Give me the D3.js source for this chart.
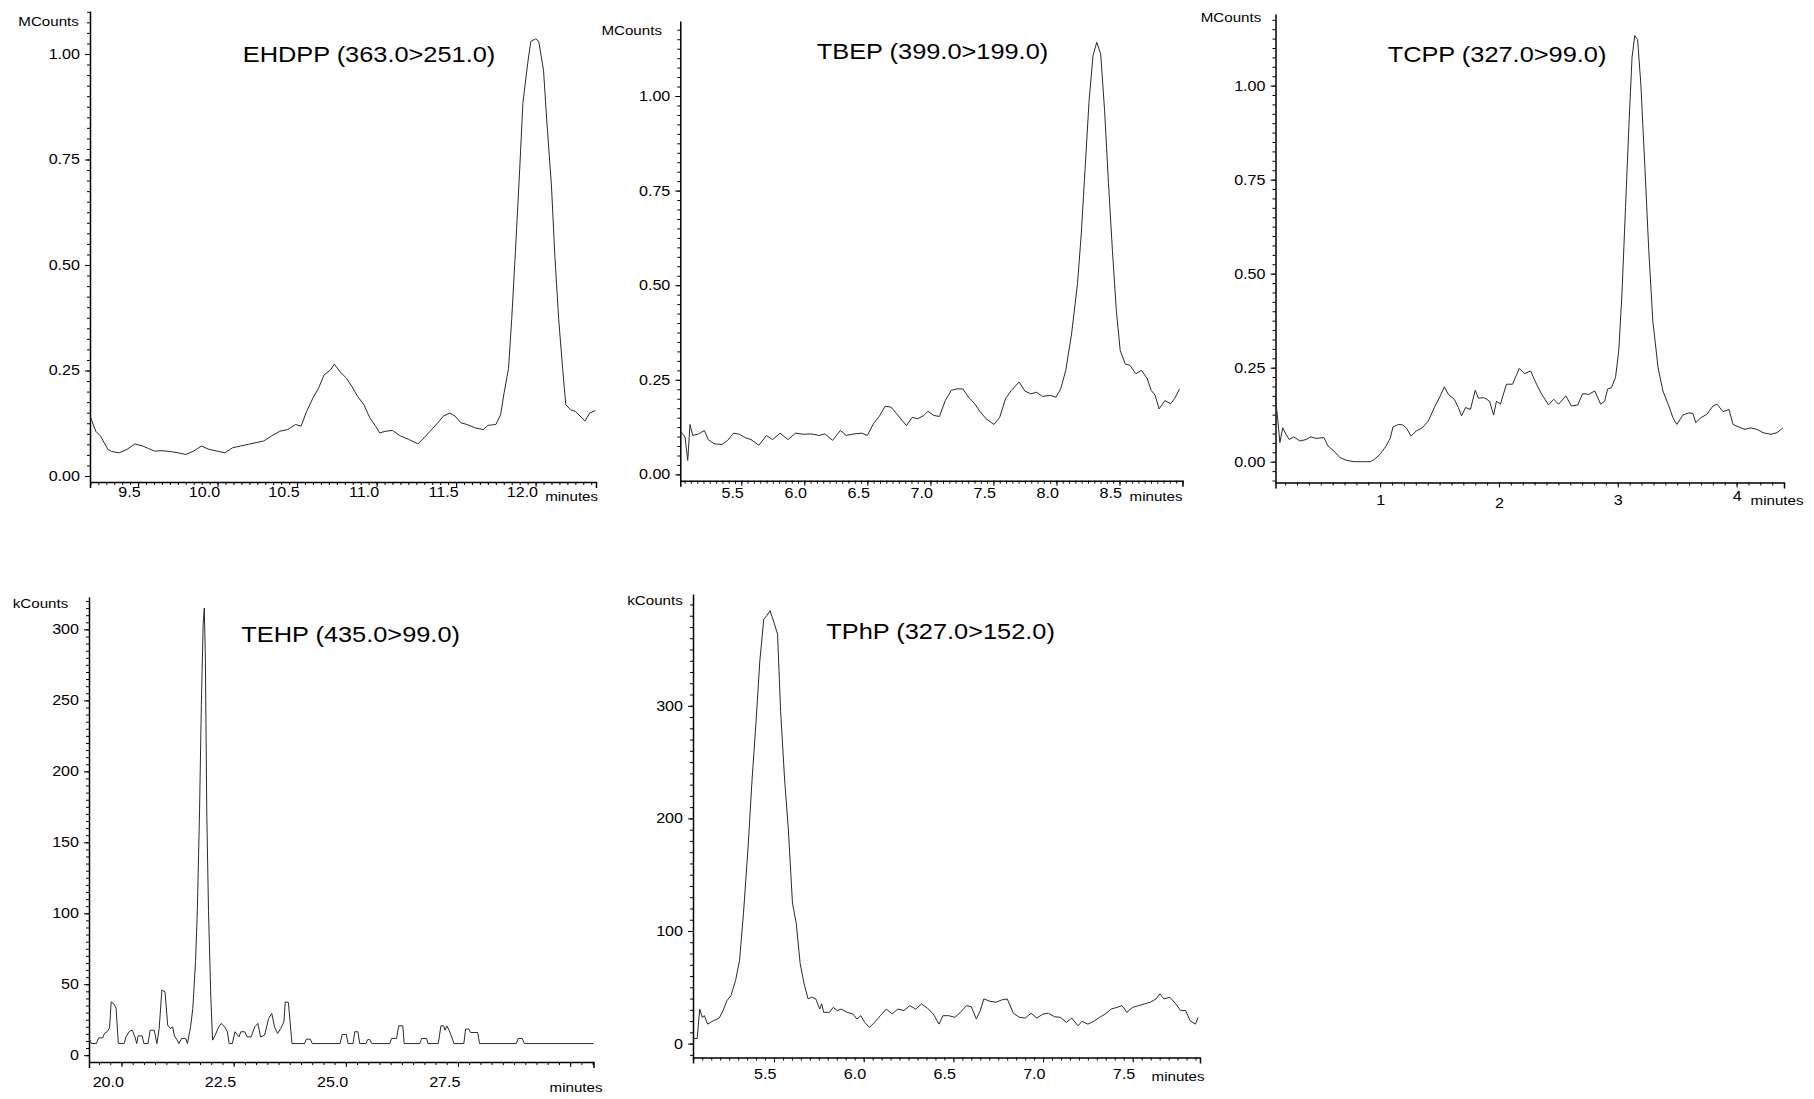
<!DOCTYPE html>
<html>
<head>
<meta charset="utf-8">
<script src="https://cdn.jsdelivr.net/npm/d3@7"></script>
<style>
  body { margin: 0; background: #fff; }
  svg text { font-family: "Liberation Sans", Arial, sans-serif; fill: #000; }
</style>
</head>
<body>
<div id="chart"></div>
<script>
// chromatogram traces, [minutes, signal]
const ehdpp = [[9.198,0.142],[9.234,0.106],[9.263,0.095],[9.31,0.063],[9.334,0.058],[9.382,0.055],[9.43,0.063],[9.48,0.076],[9.53,0.071],[9.566,0.065],[9.603,0.059],[9.65,0.060],[9.70,0.058],[9.75,0.055],[9.80,0.051],[9.849,0.059],[9.898,0.071],[9.947,0.063],[9.997,0.059],[10.046,0.055],[10.095,0.067],[10.144,0.071],[10.193,0.075],[10.242,0.079],[10.29,0.083],[10.34,0.095],[10.39,0.106],[10.44,0.110],[10.49,0.122],[10.525,0.118],[10.56,0.153],[10.60,0.185],[10.635,0.208],[10.67,0.24],[10.71,0.251],[10.734,0.265],[10.77,0.247],[10.81,0.232],[10.845,0.212],[10.88,0.189],[10.92,0.169],[10.957,0.138],[10.994,0.118],[11.02,0.102],[11.055,0.106],[11.10,0.108],[11.15,0.095],[11.20,0.087],[11.26,0.076],[11.30,0.091],[11.336,0.106],[11.385,0.126],[11.42,0.142],[11.46,0.149],[11.494,0.142],[11.53,0.126],[11.57,0.122],[11.62,0.114],[11.67,0.110],[11.70,0.120],[11.75,0.122],[11.78,0.145],[11.80,0.193],[11.83,0.255],[11.85,0.373],[11.873,0.53],[11.90,0.726],[11.92,0.883],[11.95,0.977],[11.97,1.03],[12.0,1.036],[12.02,1.03],[12.05,0.961],[12.07,0.844],[12.10,0.687],[12.12,0.53],[12.145,0.373],[12.17,0.255],[12.19,0.169],[12.22,0.157],[12.25,0.153],[12.28,0.142],[12.31,0.130],[12.34,0.149],[12.375,0.155]];

const tbep = [[5.022,0.112],[5.053,0.099],[5.075,0.037],[5.093,0.132],[5.115,0.103],[5.16,0.107],[5.207,0.116],[5.238,0.092],[5.284,0.081],[5.346,0.079],[5.392,0.090],[5.438,0.109],[5.485,0.106],[5.531,0.097],[5.577,0.092],[5.639,0.077],[5.70,0.103],[5.747,0.092],[5.808,0.109],[5.87,0.092],[5.93,0.109],[5.993,0.106],[6.055,0.107],[6.117,0.103],[6.163,0.107],[6.224,0.090],[6.286,0.116],[6.332,0.103],[6.394,0.107],[6.456,0.109],[6.50,0.103],[6.548,0.134],[6.594,0.153],[6.64,0.180],[6.687,0.178],[6.733,0.160],[6.779,0.141],[6.81,0.129],[6.856,0.151],[6.90,0.147],[6.949,0.156],[6.98,0.167],[7.026,0.156],[7.072,0.153],[7.118,0.195],[7.165,0.222],[7.21,0.226],[7.257,0.226],[7.303,0.204],[7.35,0.187],[7.396,0.165],[7.442,0.147],[7.504,0.132],[7.55,0.151],[7.596,0.200],[7.642,0.222],[7.704,0.244],[7.75,0.220],[7.797,0.213],[7.843,0.217],[7.889,0.206],[7.95,0.209],[7.997,0.204],[8.034,0.226],[8.074,0.275],[8.12,0.371],[8.167,0.504],[8.197,0.636],[8.228,0.812],[8.259,0.988],[8.29,1.107],[8.32,1.142],[8.351,1.111],[8.382,0.961],[8.413,0.768],[8.444,0.592],[8.475,0.433],[8.506,0.327],[8.546,0.292],[8.583,0.288],[8.63,0.266],[8.675,0.275],[8.72,0.253],[8.752,0.222],[8.783,0.209],[8.814,0.173],[8.86,0.195],[8.906,0.187],[8.937,0.200],[8.977,0.226]];

const tcpp = [[0.119,0.170],[0.139,0.108],[0.156,0.051],[0.18,0.090],[0.207,0.073],[0.234,0.059],[0.274,0.066],[0.325,0.055],[0.376,0.059],[0.416,0.066],[0.46,0.062],[0.527,0.064],[0.561,0.042],[0.612,0.028],[0.662,0.011],[0.713,0.004],[0.78,0],[0.848,0],[0.916,0],[0.95,0.006],[1.0,0.020],[1.05,0.042],[1.084,0.062],[1.108,0.092],[1.152,0.099],[1.186,0.098],[1.22,0.090],[1.26,0.068],[1.304,0.082],[1.354,0.090],[1.405,0.108],[1.456,0.144],[1.506,0.175],[1.54,0.199],[1.574,0.179],[1.624,0.166],[1.658,0.144],[1.685,0.122],[1.719,0.144],[1.76,0.139],[1.80,0.190],[1.827,0.169],[1.877,0.170],[1.921,0.161],[1.955,0.124],[1.979,0.161],[2.012,0.153],[2.063,0.206],[2.114,0.206],[2.171,0.248],[2.215,0.234],[2.266,0.241],[2.316,0.206],[2.36,0.179],[2.417,0.151],[2.461,0.166],[2.502,0.153],[2.563,0.175],[2.61,0.148],[2.664,0.151],[2.704,0.181],[2.755,0.179],[2.806,0.188],[2.856,0.153],[2.89,0.161],[2.914,0.193],[2.947,0.197],[2.981,0.224],[3.008,0.295],[3.035,0.445],[3.065,0.676],[3.093,0.889],[3.12,1.075],[3.143,1.133],[3.167,1.122],[3.194,1.004],[3.228,0.783],[3.261,0.561],[3.295,0.374],[3.339,0.250],[3.38,0.188],[3.43,0.148],[3.464,0.117],[3.497,0.099],[3.548,0.124],[3.599,0.130],[3.633,0.128],[3.656,0.104],[3.70,0.117],[3.75,0.126],[3.801,0.148],[3.835,0.153],[3.886,0.133],[3.936,0.139],[3.97,0.099],[4.02,0.092],[4.071,0.086],[4.12,0.090],[4.172,0.086],[4.223,0.077],[4.29,0.073],[4.34,0.077],[4.39,0.090]];

const tehp = [[19.276,11.8],[19.33,8.2],[19.44,8.2],[19.49,12.2],[19.58,12.2],[19.62,15.3],[19.68,16.5],[19.735,19.3],[19.77,37.6],[19.84,35.8],[19.88,32.9],[19.93,8.2],[20.06,8.2],[20.1,12.9],[20.18,16.9],[20.24,17.6],[20.3,12.9],[20.34,8.2],[20.37,13.6],[20.46,13.6],[20.5,8.2],[20.59,8.2],[20.64,17.6],[20.73,17.6],[20.79,8.2],[20.84,18.8],[20.9,45.9],[20.97,44.7],[21.03,21.2],[21.09,18.8],[21.14,20],[21.18,13.6],[21.23,11.3],[21.28,8.2],[21.34,11.8],[21.43,11.8],[21.47,8.2],[21.54,20],[21.59,32.9],[21.65,65.9],[21.69,101],[21.74,172],[21.78,247],[21.82,303.5],[21.845,315],[21.87,280],[21.9,172],[21.94,101],[21.99,42],[22.03,10.6],[22.09,14.1],[22.15,18.8],[22.22,22.4],[22.3,20],[22.36,16.5],[22.4,8.2],[22.47,8.2],[22.53,16.5],[22.62,12.9],[22.66,16.5],[22.75,16.5],[22.8,12.9],[22.89,12.9],[22.97,20],[23.04,22.4],[23.1,12.9],[23.19,14.1],[23.28,25.9],[23.35,29.4],[23.41,20],[23.48,15.3],[23.55,18.8],[23.62,23.5],[23.65,37.6],[23.72,37.1],[23.8,8.2],[24.08,8.2],[24.12,11.3],[24.21,11.3],[24.25,8.2],[24.87,8.2],[24.92,14.6],[25.01,14.6],[25.05,8.2],[25.16,8.2],[25.2,16.5],[25.27,16.5],[25.31,8.2],[25.45,8.2],[25.49,11.1],[25.53,11.1],[25.58,8.2],[25.98,8.2],[26.02,11.8],[26.13,11.8],[26.18,20.7],[26.27,20.7],[26.3,8.2],[26.65,8.2],[26.69,11.8],[26.8,11.8],[26.83,8.2],[27.06,8.2],[27.12,20.7],[27.18,20.7],[27.21,17.6],[27.25,20.7],[27.3,17.6],[27.36,12.9],[27.41,8.2],[27.63,8.2],[27.67,18.4],[27.74,18.4],[27.78,16],[27.94,16],[27.98,8.2],[28.8,8.2],[28.84,11.8],[28.93,11.8],[28.98,8.2],[30.52,8.2]];

const tphp = [[5.0507,4.5],[5.072,4.5],[5.086,30.7],[5.10,23.3],[5.112,24.8],[5.13,17.3],[5.155,19.7],[5.195,22.7],[5.216,29.3],[5.238,38.2],[5.26,42.7],[5.286,56.1],[5.308,74],[5.33,115.8],[5.356,175.5],[5.378,235],[5.4,286],[5.421,339.7],[5.443,377],[5.46,380],[5.478,384.5],[5.5,374],[5.52,363.6],[5.537,295],[5.559,235],[5.58,190.4],[5.603,124.8],[5.624,107],[5.646,71],[5.668,53],[5.69,39.7],[5.71,41.2],[5.733,39.7],[5.755,30.7],[5.766,35.2],[5.777,27.8],[5.81,27.8],[5.83,32.2],[5.853,29.3],[5.875,30.7],[5.908,27.8],[5.94,26.3],[5.962,21.8],[5.984,24.8],[6.006,18.8],[6.032,14.3],[6.06,18.8],[6.093,24.8],[6.126,30.7],[6.159,26.3],[6.19,30.7],[6.224,29.3],[6.257,33.7],[6.29,30.7],[6.322,35.2],[6.355,31.6],[6.388,26.3],[6.42,17.3],[6.442,24.8],[6.475,24.8],[6.508,23.3],[6.54,27.8],[6.573,33.7],[6.6,32.8],[6.628,21.8],[6.65,29.3],[6.67,39.7],[6.704,37.6],[6.737,36.7],[6.77,38.8],[6.80,39.7],[6.835,26.9],[6.868,23.3],[6.90,22.7],[6.933,26.9],[6.966,22.7],[7.0,26.3],[7.03,26.9],[7.064,23.9],[7.097,23.3],[7.13,18.8],[7.16,22.7],[7.195,15.8],[7.217,19.7],[7.25,17.3],[7.282,19.7],[7.315,23.3],[7.347,26.3],[7.38,30.7],[7.413,32.2],[7.44,33.7],[7.467,27.8],[7.5,32.2],[7.533,33.7],[7.565,35.2],[7.598,36.7],[7.63,39.7],[7.652,44.2],[7.674,39.7],[7.707,41.2],[7.74,35.2],[7.768,29.3],[7.795,29.3],[7.82,20.3],[7.85,17.3],[7.864,23.3]];

// tick values
const mcountTicks = [0, 0.25, 0.5, 0.75, 1.0];
const ehdppXTicks = [9.5, 10.0, 10.5, 11.0, 11.5, 12.0];
const tbepXTicks = [5.5, 6.0, 6.5, 7.0, 7.5, 8.0, 8.5];
const tcppXTicks = [1, 2, 3, 4];
const tehpXTicks = [20.0, 22.5, 25.0, 27.5, 30.0];
const tehpXLabels = ["20.0", "22.5", "25.0", "27.5", ""];
const tehpYTicks = [0, 50, 100, 150, 200, 250, 300];
const tphpXTicks = [5.5, 6.0, 6.5, 7.0, 7.5];
const tphpYTicks = [0, 100, 200, 300];

const titles = ["EHDPP (363.0>251.0)", "TBEP (399.0>199.0)", "TCPP (327.0>99.0)", "TEHP (435.0>99.0)", "TPhP (327.0>152.0)"];

const f1 = d3.format(".1f"), f2 = d3.format(".2f"), f0 = d3.format("d");

const panels = [
  { title: titles[0], data: ehdpp, unit: "MCounts", xTicks: ehdppXTicks, xFmt: f1, yTicks: mcountTicks, yFmt: f2,
    xDomain: [9.1975, 12.38], x0: 90, x1: 596, yTop: 11, yAxis: 482, yZero: 476, yRef: 54, refVal: 1,
    xMinor: 0.05, yMinor: 0.025, xPad: 0, anchor: "end",
    unitPos: [48.6, 20.8], titlePos: [369, 54.4], minutesPos: [571.6, 496] },
  { title: titles[1], data: tbep, unit: "MCounts", xTicks: tbepXTicks, xFmt: f1, yTicks: mcountTicks, yFmt: f2,
    xDomain: [5.016, 9.0], x0: 680.3, x1: 1182.5, yTop: 21, yAxis: 480.7, yZero: 474.4, yRef: 96, refVal: 1,
    xMinor: 0.05, yMinor: 0.025, xPad: 2, anchor: "end",
    unitPos: [631.7, 30], titlePos: [932.5, 51], minutesPos: [1156, 496] },
  { title: titles[2], data: tcpp, unit: "MCounts", xTicks: tcppXTicks, xFmt: f0, yTicks: mcountTicks, yFmt: f2,
    xDomain: [0.119, 4.399], x0: 1275.5, x1: 1784, yTop: 14, yAxis: 482.5, yZero: 461.7, yRef: 85.6, refVal: 1,
    xMinor: 0.1, yMinor: 0.025, xPad: 8, anchor: "middle", xLabelShift: [0, 3, 0, -4],
    unitPos: [1231, 17.4], titlePos: [1497, 54.4], minutesPos: [1777, 500] },
  { title: titles[3], data: tehp, unit: "kCounts", xTicks: tehpXTicks, xFmt: (d, i) => tehpXLabels[i], yTicks: tehpYTicks, yFmt: f0,
    xDomain: [19.276, 30.52], x0: 89, x1: 593.5, yTop: 597, yAxis: 1062, yZero: 1055.2, yRef: 629.4, refVal: 300,
    xMinor: 0.25, yMinor: 5, xPad: 10, anchor: "end",
    unitPos: [40.5, 602.8], titlePos: [350.6, 634], minutesPos: [576, 1087.6] },
  { title: titles[4], data: tphp, unit: "kCounts", xTicks: tphpXTicks, xFmt: f1, yTicks: tphpYTicks, yFmt: f0,
    xDomain: [5.0485, 7.875], x0: 693, x1: 1200, yTop: 594, yAxis: 1057.5, yZero: 1043.6, yRef: 705.8, refVal: 300,
    xMinor: 0.05, yMinor: 10, xPad: 7, anchor: "end",
    unitPos: [655, 600.5], titlePos: [940.6, 631.7], minutesPos: [1178, 1076] }
];

const FONT = "Liberation Sans, Arial, sans-serif";

const svg = d3.select("#chart")
  .append("svg")
  .attr("width", 1814)
  .attr("height", 1099)
  .attr("viewBox", "0 0 1814 1099");

svg.append("rect").attr("width", 1814).attr("height", 1099).attr("fill", "#fff");

// widen glyphs a little, the source figure is stretched sideways
function stretch(sel, s) {
  sel.each(function () {
    const t = d3.select(this);
    const x = +t.attr("x") || 0;
    const y = +t.attr("y") || 0;
    t.attr("x", null).attr("y", null)
      .attr("transform", `translate(${x},${y}) scale(${s},1)`);
  });
}

function steps(domain, step) {
  const [a, b] = d3.extent(domain);
  const out = [];
  for (let k = Math.ceil(a / step - 1e-9); k * step <= b + 1e-9; k++) out.push(+(k * step).toFixed(6));
  return out;
}

panels.forEach((p) => {
  const g = svg.append("g");

  const x = d3.scaleLinear().domain(p.xDomain).range([p.x0, p.x1]);
  const yRaw = d3.scaleLinear().domain([0, p.refVal]).range([p.yZero, p.yRef]);
  const y = d3.scaleLinear()
    .domain([yRaw.invert(p.yAxis), yRaw.invert(p.yTop)])
    .range([p.yAxis, p.yTop]);

  // minor ticks
  g.append("g")
    .attr("transform", `translate(${p.x0},0)`)
    .call(d3.axisLeft(y).tickValues(steps(y.domain(), p.yMinor)).tickSize(3).tickFormat(""))
    .call((a) => a.select(".domain").remove());

  g.append("g")
    .attr("transform", `translate(0,${p.yAxis})`)
    .call(d3.axisBottom(x).tickValues(steps(x.domain(), p.xMinor)).tickSize(3).tickFormat(""))
    .call((a) => a.select(".domain").remove());

  // major axes
  const yAx = g.append("g")
    .attr("transform", `translate(${p.x0},0)`)
    .call(d3.axisLeft(y).tickValues(p.yTicks).tickSize(5).tickSizeOuter(0).tickPadding(5).tickFormat(p.yFmt))
    .attr("font-family", FONT)
    .attr("font-size", 14);
  yAx.select(".domain").attr("stroke-width", 1.5);
  stretch(yAx.selectAll("text"), 1.15);

  const xAx = g.append("g")
    .attr("transform", `translate(0,${p.yAxis})`)
    .call(d3.axisBottom(x).tickValues(p.xTicks).tickSize(5).tickSizeOuter(6).tickPadding(p.xPad).tickFormat(p.xFmt))
    .attr("font-family", FONT)
    .attr("font-size", 14);
  xAx.select(".domain").attr("stroke-width", 1.5);
  xAx.selectAll("text")
    .attr("text-anchor", p.anchor)
    .attr("x", p.anchor === "end" ? 2 : 0)
    .attr("y", (d, i) => 5 + p.xPad + (p.xLabelShift ? p.xLabelShift[i] : 0));
  stretch(xAx.selectAll("text"), 1.15);

  // trace
  g.append("path")
    .datum(p.data)
    .attr("fill", "none")
    .attr("stroke", "#2a2a2a")
    .attr("stroke-width", 1)
    .attr("stroke-linejoin", "round")
    .attr("d", d3.line().x((d) => x(d[0])).y((d) => y(d[1])));

  const unit = g.append("text")
    .attr("x", p.unitPos[0])
    .attr("y", p.unitPos[1])
    .attr("dy", "0.35em")
    .attr("text-anchor", "middle")
    .attr("font-size", 13.5)
    .text(p.unit);
  stretch(unit, 1.12);

  const minutes = g.append("text")
    .attr("x", p.minutesPos[0])
    .attr("y", p.minutesPos[1])
    .attr("dy", "0.35em")
    .attr("text-anchor", "middle")
    .attr("font-size", 13.5)
    .text("minutes");
  stretch(minutes, 1.12);

  const title = g.append("text")
    .attr("x", p.titlePos[0])
    .attr("y", p.titlePos[1])
    .attr("dy", "0.35em")
    .attr("text-anchor", "middle")
    .attr("font-size", 21.5)
    .text(p.title);
  stretch(title, 1.18);
});
</script>
</body>
</html>
